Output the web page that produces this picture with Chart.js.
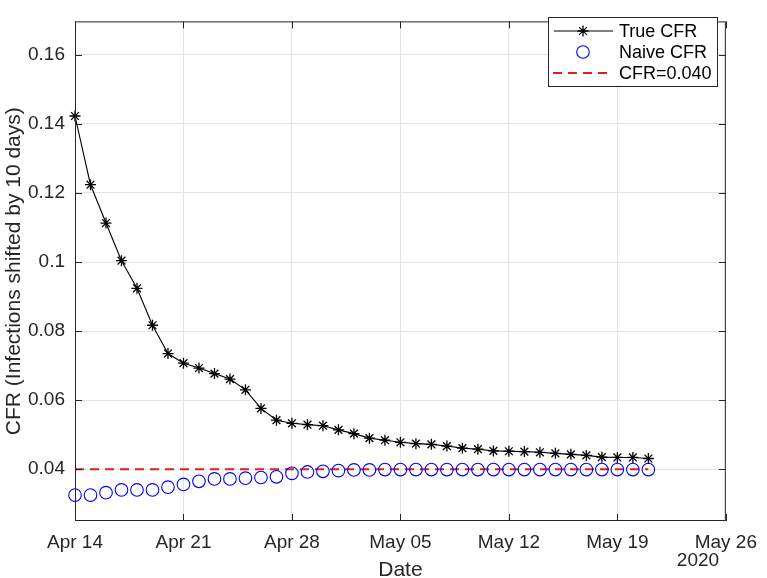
<!DOCTYPE html>
<html>
<head>
<meta charset="utf-8">
<script src="https://cdn.jsdelivr.net/npm/chart.js@4.4.1/dist/chart.umd.min.js"></script>
<style>
  html, body { margin: 0; padding: 0; background: #fff; }
  #wrap { width: 767px; height: 578px; }
</style>
</head>
<body>
<div id="wrap"><canvas id="cfrChart" width="767" height="578"></canvas></div>
<script>
// days since Apr 14 2020, one value per day (Apr 14 .. May 21)
const trueCfr = [
  0.1423, 0.1224, 0.1113, 0.1004, 0.0924, 0.0817, 0.0735, 0.0707, 0.0693, 0.0677,
  0.0661, 0.0630, 0.0576, 0.0542, 0.0533, 0.0529, 0.0526, 0.0514, 0.0503, 0.0490,
  0.0484, 0.0478, 0.0474, 0.0472, 0.0467, 0.0461, 0.0458, 0.0453, 0.0452, 0.0451,
  0.0449, 0.0446, 0.0443, 0.0440, 0.0435, 0.0434, 0.0434, 0.0431
];
const naiveCfr = [
  0.0325, 0.0325, 0.0332, 0.0340, 0.0340, 0.0340, 0.0348, 0.0356, 0.0365, 0.0372,
  0.0372, 0.0374, 0.0376, 0.0378, 0.0388, 0.0392, 0.0394, 0.0396, 0.0398, 0.0398,
  0.0399, 0.0399, 0.0399, 0.0399, 0.0399, 0.0399, 0.0399, 0.0399, 0.0399, 0.0399,
  0.0399, 0.0399, 0.0399, 0.0399, 0.0399, 0.0399, 0.0399, 0.0399
];
const cfrRef = 0.040;
const xTickDays = [0, 7, 14, 21, 28, 35, 42];
const xTickLabels = ["Apr 14", "Apr 21", "Apr 28", "May 05", "May 12", "May 19", "May 26"];
const yTicks = [0.04, 0.06, 0.08, 0.1, 0.12, 0.14, 0.16];
const seriesNames = ["True CFR", "Naive CFR", "CFR=0.040"];

const TXT = "#262626";
const FONT = "'Liberation Sans', Arial, Helvetica, sans-serif";

const toPts = arr => arr.map((v, i) => ({ x: i, y: v }));

// box, inward ticks, titles and MATLAB style legend
const matlabFrame = {
  id: "matlabFrame",
  afterDraw(chart) {
    const { ctx, chartArea: a, scales } = chart;
    ctx.save();
    ctx.strokeStyle = TXT;
    ctx.lineWidth = 1;
    ctx.strokeRect(a.left + 0.5, a.top + 0.5, a.right - a.left - 1, a.bottom - a.top - 1);
    ctx.beginPath();
    xTickDays.forEach(d => {
      const x = Math.round(scales.x.getPixelForValue(d)) + 0.5;
      ctx.moveTo(x, a.bottom); ctx.lineTo(x, a.bottom - 7);
      ctx.moveTo(x, a.top); ctx.lineTo(x, a.top + 7);
    });
    yTicks.forEach(v => {
      const y = Math.round(scales.y.getPixelForValue(v)) + 0.5;
      ctx.moveTo(a.left, y); ctx.lineTo(a.left + 7, y);
      ctx.moveTo(a.right, y); ctx.lineTo(a.right - 7, y);
    });
    ctx.stroke();

    ctx.fillStyle = TXT;
    ctx.font = "21px " + FONT;
    ctx.textAlign = "center";
    ctx.textBaseline = "alphabetic";
    ctx.fillText("Date", (a.left + a.right) / 2, 576);
    ctx.save();
    ctx.translate(20, (a.top + a.bottom) / 2);
    ctx.rotate(-Math.PI / 2);
    ctx.fillText("CFR (Infections shifted by 10 days)", 0, 0);
    ctx.restore();
    ctx.font = "19px " + FONT;
    ctx.fillText("2020", 698, 566);

    // legend
    const L = 548, T = 17, R = 718, B = 87;
    ctx.fillStyle = "#fff";
    ctx.fillRect(L, T, R - L, B - T);
    ctx.strokeStyle = TXT;
    ctx.strokeRect(L + 0.5, T + 0.5, R - L - 1, B - T - 1);
    const rows = [31, 52, 73];
    const ds = chart.data.datasets;
    ctx.font = "18px " + FONT;
    ctx.textAlign = "left";
    ctx.textBaseline = "middle";
    rows.forEach((y, i) => {
      const d = ds[i];
      ctx.strokeStyle = d.borderColor;
      ctx.lineWidth = d.borderWidth;
      if (i === 0) {
        ctx.beginPath(); ctx.moveTo(554, y); ctx.lineTo(613, y); ctx.stroke();
        const r = 5.5;
        ctx.lineWidth = 1.3;
        ctx.beginPath();
        for (let k = 0; k < 4; k++) {
          const ang = k * Math.PI / 4;
          ctx.moveTo(583 - r * Math.cos(ang), y - r * Math.sin(ang));
          ctx.lineTo(583 + r * Math.cos(ang), y + r * Math.sin(ang));
        }
        ctx.stroke();
      } else if (i === 1) {
        ctx.beginPath(); ctx.arc(583, y, 6.3, 0, Math.PI * 2); ctx.stroke();
      } else {
        ctx.setLineDash(d.borderDash);
        ctx.beginPath(); ctx.moveTo(553, y); ctx.lineTo(613, y); ctx.stroke();
        ctx.setLineDash([]);
      }
      ctx.fillStyle = "#000";
      ctx.fillText(seriesNames[i], 619, y + 1);
    });
    ctx.restore();
  }
};

new Chart(document.getElementById("cfrChart"), {
  type: "scatter",
  data: {
    datasets: [
      {
        label: seriesNames[0],
        data: toPts(trueCfr),
        showLine: true,
        borderColor: "#000",
        backgroundColor: "#000",
        borderWidth: 1.1,
        pointStyle: "star",
        pointRadius: 5.5,
        pointBorderWidth: 1.3,
        clip: false,
      },
      {
        label: seriesNames[1],
        data: toPts(naiveCfr),
        showLine: false,
        borderColor: "#0000ff",
        backgroundColor: "rgba(0,0,0,0)",
        borderWidth: 1.1,
        pointStyle: "circle",
        pointRadius: 6.3,
        pointBorderWidth: 1.1,
        clip: false,
      },
      {
        label: seriesNames[2],
        data: toPts(trueCfr.map(() => cfrRef)),
        showLine: true,
        borderColor: "#e0201c",
        backgroundColor: "#e0201c",
        borderWidth: 2,
        borderDash: [9, 6],
        pointRadius: 0,
      },
    ],
  },
  options: {
    responsive: false,
    animation: false,
    layout: { padding: { left: 0, right: 32, top: 1, bottom: 0 } },
    plugins: { legend: { display: false }, tooltip: { enabled: false } },
    scales: {
      x: {
        type: "linear",
        min: 0, max: 42,
        afterFit: s => { s.height = 57; },
        afterBuildTicks: s => { s.ticks = xTickDays.map(v => ({ value: v })); },
        ticks: {
          autoSkip: false, maxRotation: 0, padding: 10, color: TXT,
          font: { family: FONT, size: 19 },
          callback: v => xTickLabels[xTickDays.indexOf(v)],
        },
        grid: { color: "#e3e3e3", drawTicks: false },
        border: { display: false },
      },
      y: {
        type: "linear",
        min: 0.025, max: 0.1697,
        afterFit: s => { s.width = 75; },
        afterBuildTicks: s => { s.ticks = yTicks.map(v => ({ value: v })); },
        ticks: {
          padding: 10, color: TXT,
          font: { family: FONT, size: 19 },
          callback: v => String(Number(v.toFixed(2))),
        },
        grid: { color: "#e3e3e3", drawTicks: false },
        border: { display: false },
      },
    },
  },
  plugins: [matlabFrame],
});
</script>
</body>
</html>
